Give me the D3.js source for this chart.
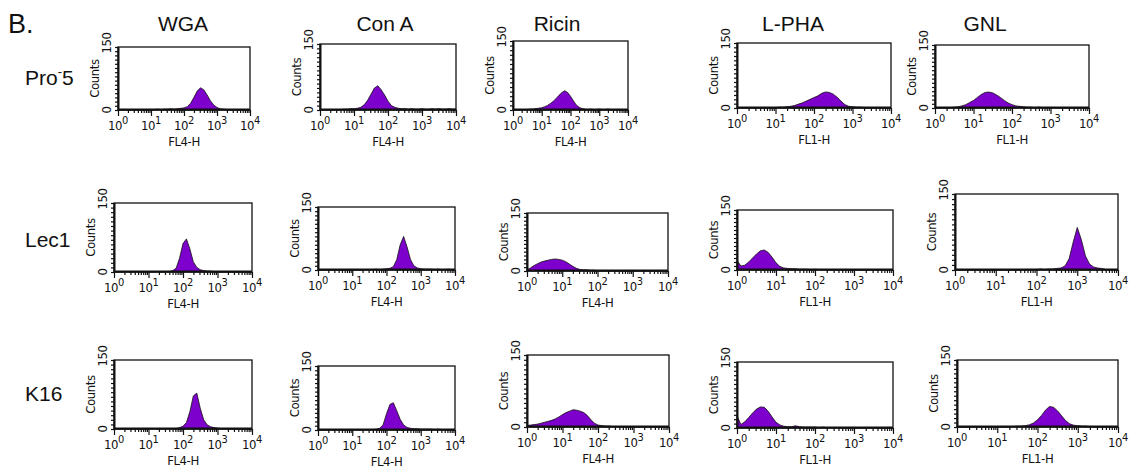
<!DOCTYPE html>
<html lang="en">
<head>
    <meta charset="UTF-8">
    <script type="text/javascript" src="https://cdn.jsdelivr.net/npm/d3@7/dist/d3.min.js"></script>
    <title>lectin flow histograms</title>
    <style>
        body { margin: 0; background: #fff; }
        text { font-family: "Liberation Sans", Arial, sans-serif; fill: #111; }
        .narrow { font-family: "Liberation Sans Narrow", "DejaVu Sans Condensed", "Liberation Sans", sans-serif; letter-spacing: -0.4px; }
    </style>
</head>
<body>

</body>
<script>

    let width = 1129,
        height = 468

    // columns / rows
    let lectins = ["WGA", "Con A", "Ricin", "L-PHA", "GNL"]
    let channels = ["FL4-H", "FL4-H", "FL4-H", "FL1-H", "FL1-H"]
    let cellLines = ["Pro-5", "Lec1", "K16"]
    let decades = [0, 1, 2, 3, 4]
    let yTicks = [0, 150]

    // histogram bins: log10 of fluorescence, 0.0 .. 4.0 in steps of 0.1
    let binLog = d3.range(41).map(i => i / 10)

    // counts per bin (row = cell line, col = lectin)
    let pro5_WGA   = [0,0,0,0,0,0,0,0,0,0,0, 1,2,1,2,2,3,2,3,4,5, 8,16,30,45,53,48,36,22,12,6, 3,2,1,0,0,0,0,0,0,0]
    let pro5_ConA  = [0,0,0,0,0,0,1,2,2,3,3, 4,6,12,22,36,50,55,46,34,20, 10,6,4,3,3,2,3,2,2,3, 2,2,3,2,3,2,2,3,2,2]
    let pro5_Ricin = [0,0,0,0,1,1,2,2,3,4,5, 7,10,14,19,25,32,38,42,38,30, 20,11,6,3,2,1,2,1,1,2, 1,1,2,1,1,0,0,0,1,1]
    let pro5_LPHA  = [0,0,0,0,0,0,0,0,0,0,1, 2,2,3,4,6,9,12,16,20,24, 28,34,37,36,32,25,16,8,4,3, 2,2,1,0,0,0,0,0,0,0]
    let pro5_GNL   = [0,0,0,0,1,2,3,5,8,13,18, 25,32,37,38,36,31,25,18,12,8, 5,4,3,2,2,1,2,1,1,1, 1,0,1,0,0,0,0,0,0,0]

    let lec1_WGA   = [0,0,0,1,1,0,1,1,0,1,1, 0,1,1,0,1,1,3,8,30,62, 72,50,22,10,5,3,2,2,1,0, 0,0,0,0,0,0,0,0,0,0]
    let lec1_ConA  = [0,0,0,0,0,0,0,0,0,0,0, 0,0,0,1,1,1,2,1,2,3, 4,8,25,60,80,55,25,10,5,3, 2,2,2,1,2,1,1,2,1,1]
    let lec1_Ricin = [3,8,14,19,23,26,28,30,31,30,28, 24,18,12,7,4,3,3,2,2,1, 0,0,0,0,0,0,0,0,0,0, 0,0,0,0,0,0,0,0,0,0]
    let lec1_LPHA  = [24,10,12,20,30,40,48,50,44,32,18, 9,5,4,3,3,2,2,2,1,2, 1,1,1,0,0,0,0,0,0,0, 0,0,0,0,0,0,0,0,0,0]
    let lec1_GNL   = [0,0,0,0,0,0,0,0,0,0,0, 0,0,0,0,0,0,1,1,1,1, 2,1,2,2,3,4,8,22,55,84, 60,28,12,6,4,3,1,0,0,0]

    let k16_WGA    = [0,0,0,0,0,0,0,0,0,0,1, 1,1,0,1,1,1,1,1,3,6, 14,38,72,78,45,20,9,5,3,2, 1,0,0,0,0,0,0,0,0,0]
    let k16_ConA   = [0,0,0,0,1,0,1,1,0,1,1, 1,0,1,1,1,1,2,4,12,38, 60,64,45,25,12,6,4,3,3,2, 2,2,2,1,2,1,1,0,0,0]
    let k16_Ricin  = [3,4,5,6,8,10,12,14,17,21,26, 30,33,36,35,33,30,24,15,8,4, 3,2,2,1,1,1,1,0,0,0, 0,0,0,0,0,0,0,0,0,0]
    let k16_LPHA   = [28,8,14,24,34,43,48,47,38,25,13, 7,4,3,3,5,3,2,2,2,2, 1,2,1,1,1,1,1,0,0,0, 0,0,0,0,0,0,0,0,0,0]
    let k16_GNL    = [0,0,0,0,0,0,0,0,0,0,0, 0,0,1,1,2,2,3,5,9,16, 26,38,46,44,36,25,14,7,4,3, 2,2,1,0,0,0,0,0,0,0]

    let counts = [
        [pro5_WGA, pro5_ConA, pro5_Ricin, pro5_LPHA, pro5_GNL],
        [lec1_WGA, lec1_ConA, lec1_Ricin, lec1_LPHA, lec1_GNL],
        [k16_WGA, k16_ConA, k16_Ricin, k16_LPHA, k16_GNL]
    ]

    // plot boxes [left, top, right, bottom] for each panel
    let boxes = [
        [[118, 47, 250, 110], [320, 44, 456, 110], [513, 41, 628, 110], [737, 43, 891, 108], [935, 45, 1089, 108]],
        [[114, 203, 252, 272], [318, 207, 455, 270], [527, 213, 668, 271], [737, 210, 893, 270], [955, 194, 1118, 270]],
        [[114, 360, 252, 429], [318, 366, 455, 430], [527, 355, 669, 427], [737, 362, 893, 428], [957, 360, 1118, 427]]
    ]
    let titleX = [183, 385, 557, 793, 985]
    let rowBaseline = [85, 247, 401]

    let fillColor = "#7d00cc"

    let svg = d3.select("body")
        .append("svg")
        .attr("width", width)
        .attr("height", height)

    svg.append("text")
        .attr("x", 8)
        .attr("y", 33)
        .attr("font-size", 27)
        .text("B.")

    svg.selectAll("text.title")
        .data(lectins)
        .enter()
        .append("text")
        .attr("class", "title")
        .attr("x", (d, i) => titleX[i])
        .attr("y", 31)
        .attr("text-anchor", "middle")
        .attr("font-size", 21)
        .text(d => d)

    cellLines.forEach(function (name, r) {
        let t = svg.append("text")
            .attr("x", 25)
            .attr("y", rowBaseline[r])
            .attr("font-size", 21)
        if (name === "Pro-5") {
            t.append("tspan").text("Pro")
            t.append("tspan").attr("font-size", 13).attr("dy", -9).text("-")
            t.append("tspan").attr("dy", 9).text("5")
        } else {
            t.text(name)
        }
    })

    counts.forEach(function (row, r) {
        row.forEach(function (series, c) {
            renderPanel(boxes[r][c], series, channels[c])
        })
    })

    function renderPanel(box, series, channel) {
        let w = box[2] - box[0],
            h = box[3] - box[1]

        let x = d3.scaleLinear().domain([0, 4]).range([0, w]),
            xLog = d3.scaleLog().domain([1, 1e4]).range([0, w]),
            y = d3.scaleLinear().domain([0, 150]).range([h, 0])

        let g = svg.append("g")
            .attr("transform", `translate(${box[0]},${box[1]})`)

        let pts = series.map((v, i) => ({lx: binLog[i], n: v}))

        let area = d3.area()
            .x(d => x(d.lx))
            .y0(h)
            .y1(d => y(d.n))

        g.append("path")
            .attr("d", area(pts))
            .attr("fill", fillColor)
            .attr("stroke", "#111")
            .attr("stroke-width", 0.8)

        // frame
        g.append("rect")
            .attr("width", w)
            .attr("height", h)
            .attr("fill", "none")
            .attr("stroke", "#111")
            .attr("stroke-width", 1.3)
        // heavier baseline and left edge
        g.append("line")
            .attr("x1", 0).attr("x2", w)
            .attr("y1", h - 0.5).attr("y2", h - 0.5)
            .attr("stroke", "#111")
            .attr("stroke-width", 2.2)
        g.append("line")
            .attr("x1", 0.5).attr("x2", 0.5)
            .attr("y1", 0).attr("y2", h)
            .attr("stroke", "#111")
            .attr("stroke-width", 2)

        // x ticks: decade majors plus 2..9 minors
        let minor = []
        decades.slice(0, 4).forEach(function (p) {
            for (let k = 2; k < 10; k++) minor.push(k * Math.pow(10, p))
        })
        g.append("g")
            .attr("transform", `translate(0,${h})`)
            .call(d3.axisBottom(xLog).tickValues(minor).tickSize(3).tickFormat(""))
            .call(a => a.select(".domain").remove())
        g.append("g")
            .attr("transform", `translate(0,${h})`)
            .call(d3.axisBottom(xLog).tickValues(decades.map(p => Math.pow(10, p))).tickSize(6).tickFormat(""))
            .call(a => a.select(".domain").remove())

        // y ticks
        g.append("g")
            .call(d3.axisLeft(y).tickValues(d3.range(0, 151, 10)).tickSize(3).tickFormat(""))
            .call(a => a.select(".domain").remove())
        g.selectAll(".tick line").attr("stroke", "#111").attr("stroke-width", 1.2)

        // x tick labels 10^p
        decades.forEach(function (p) {
            let t = g.append("text")
                .attr("class", "narrow")
                .attr("x", xLog(Math.pow(10, p)))
                .attr("y", h + 20)
                .attr("text-anchor", "middle")
                .attr("font-size", 13)
            t.append("tspan").text("10")
            t.append("tspan").attr("font-size", 11).attr("dy", -6).text(p)
        })

        g.append("text")
            .attr("class", "narrow")
            .attr("x", w / 2)
            .attr("y", h + 36)
            .attr("text-anchor", "middle")
            .attr("font-size", 13)
            .text(channel)

        // y labels, rotated
        yTicks.forEach(function (v) {
            g.append("text")
                .attr("class", "narrow")
                .attr("transform", `translate(-7,${v === 0 ? y(v) : y(v) - 4}) rotate(-90)`)
                .attr("text-anchor", "middle")
                .attr("font-size", 13)
                .text(v)
        })
        g.append("text")
            .attr("class", "narrow")
            .attr("transform", `translate(-19,${h / 2}) rotate(-90)`)
            .attr("text-anchor", "middle")
            .attr("font-size", 13)
            .text("Counts")
    }

</script>
</html>
